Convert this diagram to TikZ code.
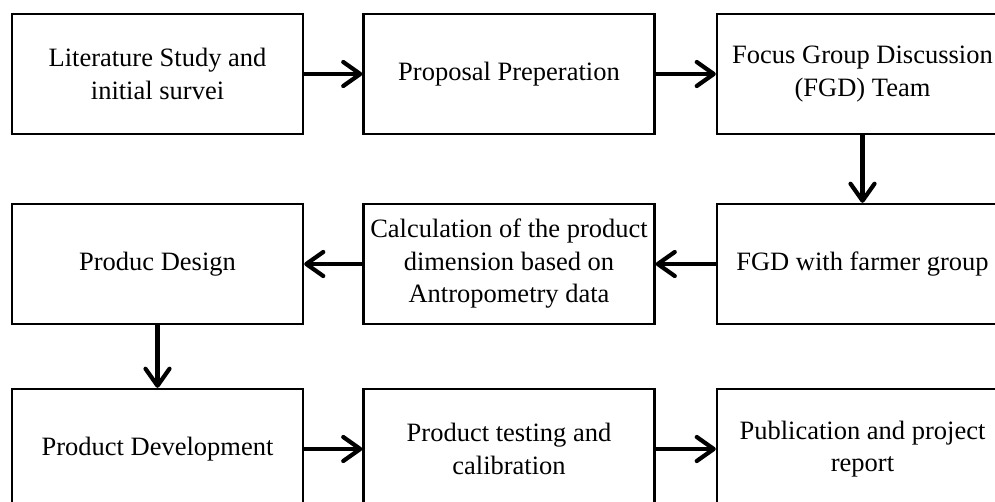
\documentclass[tikz,border=0pt]{standalone}
\usepackage{fontspec}
\setmainfont{Liberation Serif}
\usetikzlibrary{arrows.meta}
\begin{document}
\begin{tikzpicture}[x=1pt,y=-1pt,
  stepbox/.style={draw=black, line width=2.3pt, minimum width=291pt, minimum height=120pt,
    inner sep=0pt, align=center, font=\fontsize{26.5}{32.5}\selectfont},
  flow/.style={line width=4.2pt, -{Straight Barb[length=17pt,width=24pt,round]}}]
\useasboundingbox (0,0) rectangle (995,501);
\clip (0,0) rectangle (995,501);
\node[stepbox] (b1) at (157.5,74) {Literature Study and\\initial survei};
\node[stepbox] (b2) at (509,74) {Proposal Preperation};
\node[stepbox] (b3) at (862.5,74) {Focus Group Discussion\\(FGD) Team};
\node[stepbox] (b4) at (157.5,264) {Produc Design};
\node[stepbox] (b5) at (509,264) {Calculation of the product\\dimension based on\\Antropometry data};
\node[stepbox] (b6) at (862.5,264) {FGD with farmer group};
\node[stepbox] (b7) at (157.5,449) {Product Development};
\node[stepbox] (b8) at (509,449) {Product testing and\\calibration};
\node[stepbox] (b9) at (862.5,449) {Publication and project\\report};
\draw[flow] (b1) -- (b2);
\draw[flow] (b2) -- (b3);
\draw[flow] (b3) -- (b6);
\draw[flow] (b6) -- (b5);
\draw[flow] (b5) -- (b4);
\draw[flow] (b4) -- (b7);
\draw[flow] (b7) -- (b8);
\draw[flow] (b8) -- (b9);
\end{tikzpicture}
\end{document}
